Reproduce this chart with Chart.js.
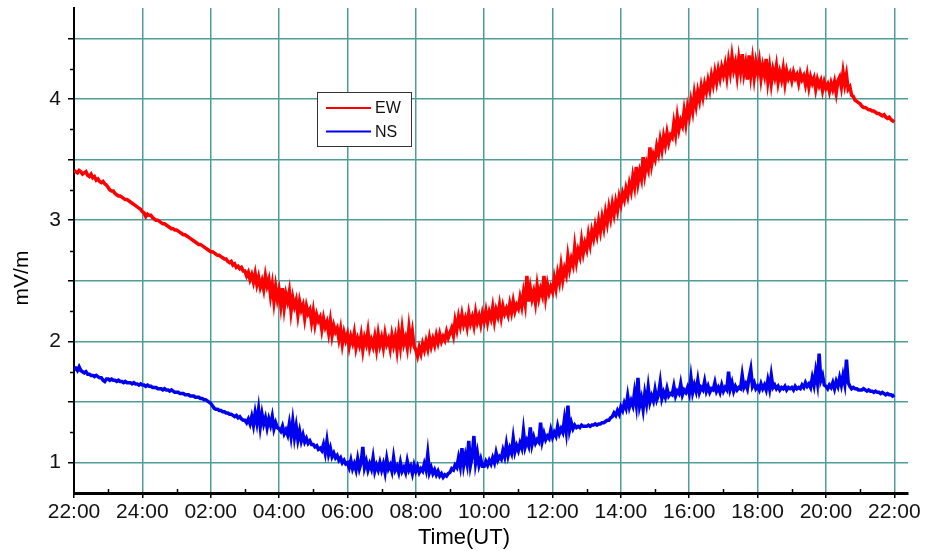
<!DOCTYPE html>
<html>
<head>
<meta charset="utf-8">
<script src="https://cdn.jsdelivr.net/npm/chart.js@4/dist/chart.umd.min.js"></script>
<style>
  html, body { margin: 0; padding: 0; background: #ffffff; }
  #wrap { width: 925px; height: 551px; }
</style>
</head>
<body>
<div id="wrap"><canvas id="chart" width="925" height="551"></canvas></div>
<script>
// Samples every 0.05 h (3 min), starting at 22:00 UT and running for 24 hours.
const sampleStepHours = 0.05;

// Hour-axis labels, one every two hours.
const timeTickLabels = ['22:00', '24:00', '02:00', '04:00', '06:00', '08:00', '10:00',
                        '12:00', '14:00', '16:00', '18:00', '20:00', '22:00'];

const seriesNames = ['EW', 'NS'];
const xAxisTitle = 'Time(UT)';
const yAxisTitle = 'mV/m';

// East-west component, mV/m (one row per hour)
const ewValues = [
  3.41, 3.40, 3.39, 3.41, 3.40, 3.38, 3.39, 3.40, 3.37, 3.36, 3.38, 3.35, 3.36, 3.33, 3.34, 3.32, 3.31, 3.32, 3.30, 3.29,
  3.27, 3.25, 3.24, 3.24, 3.22, 3.21, 3.20, 3.20, 3.19, 3.18, 3.17, 3.17, 3.16, 3.15, 3.14, 3.13, 3.12, 3.11, 3.10, 3.09,
  3.07, 3.06, 3.03, 3.05, 3.04, 3.04, 3.02, 3.01, 3.00, 3.00, 2.99, 2.98, 2.97, 2.97, 2.96, 2.95, 2.94, 2.93, 2.93, 2.92,
  2.92, 2.91, 2.90, 2.89, 2.88, 2.88, 2.87, 2.86, 2.85, 2.84, 2.83, 2.82, 2.81, 2.80, 2.80, 2.79, 2.78, 2.77, 2.76, 2.75,
  2.74, 2.74, 2.73, 2.72, 2.71, 2.71, 2.70, 2.69, 2.68, 2.68, 2.66, 2.65, 2.66, 2.63, 2.64, 2.61, 2.62, 2.60, 2.61, 2.58,
  2.58, 2.54, 2.57, 2.51, 2.55, 2.49, 2.56, 2.47, 2.53, 2.45, 2.50, 2.43, 2.54, 2.46, 2.51, 2.38, 2.47, 2.33, 2.45, 2.35,
  2.42, 2.30, 2.44, 2.28, 2.39, 2.33, 2.41, 2.25, 2.36, 2.29, 2.34, 2.22, 2.33, 2.26, 2.30, 2.19, 2.29, 2.23, 2.26, 2.16,
  2.25, 2.14, 2.22, 2.17, 2.20, 2.10, 2.19, 2.12, 2.16, 2.07, 2.17, 2.05, 2.13, 2.08, 2.11, 2.02, 2.10, 1.98, 2.07, 2.01,
  2.06, 1.96, 2.04, 1.99, 2.07, 1.95, 2.02, 1.97, 2.05, 1.93, 2.03, 1.98, 2.08, 1.95, 2.01, 1.96, 2.04, 1.94, 2.06, 1.97,
  2.03, 1.95, 2.06, 1.98, 2.02, 1.94, 2.05, 1.97, 2.04, 1.93, 2.07, 1.96, 2.10, 1.98, 2.03, 1.95, 2.11, 1.99, 2.08, 1.96,
  1.93, 1.88, 1.95, 1.90, 1.98, 1.93, 2.00, 1.94, 2.03, 1.96, 2.02, 1.97, 2.05, 1.99, 2.06, 2.00, 2.04, 2.01, 2.08, 2.03,
  2.07, 2.11, 2.05, 2.17, 2.10, 2.20, 2.13, 2.22, 2.14, 2.19, 2.12, 2.23, 2.15, 2.20, 2.13, 2.24, 2.16, 2.21, 2.14, 2.23,
  2.17, 2.25, 2.16, 2.24, 2.19, 2.28, 2.17, 2.26, 2.21, 2.30, 2.20, 2.29, 2.23, 2.27, 2.22, 2.31, 2.24, 2.33, 2.25, 2.30,
  2.27, 2.36, 2.29, 2.40, 2.31, 2.54, 2.33, 2.44, 2.35, 2.41, 2.32, 2.46, 2.36, 2.43, 2.38, 2.54, 2.37, 2.47, 2.40, 2.45,
  2.41, 2.52, 2.44, 2.56, 2.49, 2.62, 2.51, 2.60, 2.55, 2.70, 2.60, 2.68, 2.63, 2.78, 2.66, 2.75, 2.70, 2.83, 2.73, 2.81,
  2.76, 2.88, 2.80, 2.91, 2.85, 2.95, 2.88, 2.99, 2.91, 3.02, 2.94, 3.06, 2.98, 3.10, 3.02, 3.13, 3.05, 3.15, 3.08, 3.19,
  3.13, 3.22, 3.17, 3.26, 3.20, 3.30, 3.24, 3.36, 3.28, 3.44, 3.31, 3.40, 3.34, 3.52, 3.38, 3.47, 3.42, 3.60, 3.46, 3.54,
  3.50, 3.61, 3.55, 3.66, 3.58, 3.69, 3.62, 3.72, 3.64, 3.70, 3.68, 3.80, 3.71, 3.85, 3.75, 3.82, 3.78, 3.90, 3.80, 3.93,
  3.86, 3.98, 3.90, 4.04, 3.95, 4.06, 3.99, 4.10, 4.02, 4.12, 4.06, 4.15, 4.08, 4.19, 4.12, 4.22, 4.14, 4.24, 4.17, 4.26,
  4.20, 4.28, 4.18, 4.31, 4.22, 4.35, 4.24, 4.30, 4.19, 4.33, 4.23, 4.37, 4.21, 4.29, 4.16, 4.36, 4.20, 4.32, 4.18, 4.30,
  4.22, 4.31, 4.17, 4.27, 4.20, 4.33, 4.15, 4.26, 4.13, 4.24, 4.18, 4.27, 4.14, 4.22, 4.16, 4.25, 4.13, 4.23, 4.17, 4.21,
  4.15, 4.22, 4.17, 4.20, 4.13, 4.21, 4.16, 4.19, 4.12, 4.20, 4.10, 4.18, 4.13, 4.17, 4.08, 4.16, 4.11, 4.15, 4.07, 4.14,
  4.09, 4.12, 4.06, 4.13, 4.08, 4.14, 4.05, 4.15, 4.18, 4.10, 4.22, 4.12, 4.20, 4.08, 4.10, 4.03, 4.02, 3.99, 3.98, 3.97,
  3.96, 3.94, 3.93, 3.93, 3.92, 3.91, 3.91, 3.90, 3.90, 3.89, 3.88, 3.88, 3.87, 3.86, 3.87, 3.85, 3.84, 3.85, 3.83, 3.82,
  3.81
];

// North-south component, mV/m (one row per hour)
const nsValues = [
  1.77, 1.78, 1.76, 1.79, 1.76, 1.75, 1.74, 1.75, 1.73, 1.73, 1.72, 1.72, 1.71, 1.72, 1.71, 1.70, 1.70, 1.68, 1.67, 1.69,
  1.69, 1.68, 1.69, 1.68, 1.68, 1.67, 1.68, 1.67, 1.67, 1.66, 1.67, 1.66, 1.66, 1.66, 1.65, 1.66, 1.65, 1.65, 1.64, 1.65,
  1.64, 1.64, 1.63, 1.64, 1.63, 1.63, 1.62, 1.62, 1.62, 1.61, 1.61, 1.61, 1.60, 1.61, 1.60, 1.60, 1.59, 1.60, 1.59, 1.58,
  1.58, 1.58, 1.57, 1.57, 1.57, 1.56, 1.56, 1.56, 1.55, 1.55, 1.55, 1.54, 1.54, 1.54, 1.53, 1.53, 1.52, 1.52, 1.51, 1.50,
  1.49, 1.47, 1.45, 1.44, 1.44, 1.43, 1.43, 1.42, 1.42, 1.41, 1.41, 1.40, 1.40, 1.39, 1.38, 1.39, 1.37, 1.38, 1.36, 1.35,
  1.35, 1.33, 1.36, 1.32, 1.38, 1.31, 1.41, 1.33, 1.44, 1.30, 1.40, 1.32, 1.37, 1.29, 1.36, 1.31, 1.38, 1.28, 1.33, 1.29,
  1.28, 1.26, 1.30, 1.24, 1.27, 1.23, 1.32, 1.22, 1.34, 1.21, 1.30, 1.19, 1.26, 1.18, 1.23, 1.17, 1.20, 1.16, 1.18, 1.15,
  1.15, 1.13, 1.14, 1.11, 1.12, 1.10, 1.15, 1.08, 1.18, 1.07, 1.12, 1.05, 1.08, 1.04, 1.06, 1.02, 1.04, 1.00, 1.02, 0.99,
  1.00, 0.96, 1.02, 0.95, 0.99, 0.94, 1.03, 0.95, 1.00, 1.13, 0.96, 1.01, 0.94, 0.99, 0.95, 1.04, 0.93, 0.98, 0.94, 1.00,
  0.94, 0.99, 0.92, 1.03, 0.95, 0.98, 0.93, 1.04, 0.94, 0.97, 0.92, 1.00, 0.93, 0.96, 0.92, 1.01, 0.94, 0.97, 0.91, 0.98,
  0.93, 0.97, 0.92, 0.95, 0.93, 0.99, 0.94, 1.07, 0.92, 0.96, 0.91, 0.94, 0.90, 0.93, 0.89, 0.91, 0.88, 0.90, 0.89, 0.91,
  0.92, 0.95, 0.94, 0.98, 0.96, 1.04, 0.97, 1.12, 0.98, 1.06, 0.99, 1.18, 0.98, 1.05, 1.22, 1.00, 1.08, 0.98, 1.03, 0.97,
  0.97, 1.01, 0.98, 1.02, 0.99, 1.04, 1.00, 1.08, 1.02, 1.05, 1.03, 1.10, 1.05, 1.15, 1.06, 1.12, 1.08, 1.20, 1.09, 1.14,
  1.10, 1.16, 1.12, 1.26, 1.13, 1.18, 1.14, 1.29, 1.15, 1.21, 1.16, 1.19, 1.17, 1.33, 1.18, 1.24, 1.19, 1.22, 1.20, 1.27,
  1.21, 1.25, 1.22, 1.30, 1.24, 1.28, 1.25, 1.36, 1.26, 1.47, 1.27, 1.33, 1.28, 1.31, 1.29, 1.30, 1.29, 1.31, 1.30, 1.30,
  1.30, 1.31, 1.30, 1.31, 1.31, 1.32, 1.31, 1.32, 1.32, 1.33, 1.33, 1.34, 1.35, 1.35, 1.37, 1.38, 1.41, 1.39, 1.43, 1.40,
  1.46, 1.43, 1.49, 1.45, 1.55, 1.46, 1.51, 1.47, 1.58, 1.48, 1.70, 1.47, 1.53, 1.44, 1.57, 1.49, 1.62, 1.50, 1.55, 1.51,
  1.60, 1.52, 1.56, 1.66, 1.53, 1.58, 1.54, 1.61, 1.55, 1.57, 1.56, 1.63, 1.55, 1.59, 1.57, 1.65, 1.56, 1.60, 1.58, 1.62,
  1.57, 1.70, 1.58, 1.64, 1.59, 1.68, 1.58, 1.62, 1.60, 1.67, 1.59, 1.63, 1.58, 1.61, 1.60, 1.66, 1.59, 1.62, 1.58, 1.64,
  1.59, 1.62, 1.60, 1.75, 1.61, 1.66, 1.59, 1.63, 1.60, 1.62, 1.61, 1.72, 1.62, 1.65, 1.61, 1.70, 1.77, 1.63, 1.66, 1.61,
  1.63, 1.60, 1.65, 1.61, 1.64, 1.60, 1.68, 1.61, 1.72, 1.62, 1.64, 1.61, 1.63, 1.60, 1.62, 1.61, 1.63, 1.60, 1.62, 1.61,
  1.62, 1.60, 1.63, 1.61, 1.62, 1.61, 1.64, 1.62, 1.66, 1.63, 1.65, 1.62, 1.70, 1.64, 1.75, 1.66, 1.90, 1.68, 1.72, 1.64,
  1.63, 1.61, 1.64, 1.62, 1.66, 1.61, 1.67, 1.63, 1.70, 1.64, 1.72, 1.65, 1.85, 1.66, 1.63, 1.61, 1.62, 1.61, 1.61, 1.60,
  1.60, 1.60, 1.61, 1.60, 1.59, 1.60, 1.59, 1.59, 1.58, 1.59, 1.58, 1.58, 1.57, 1.58, 1.57, 1.56, 1.57, 1.56, 1.56, 1.55,
  1.56
];

const toPoints = (values) => values.map((v, i) => ({ x: +(i * sampleStepHours).toFixed(2), y: v }));

const FONT = "'Liberation Sans', Arial, sans-serif";
const GRID = '#4f9d99';

// Small unlabeled ticks between the main ones (quarter mV/m and odd hours)
const minorTicks = {
  id: 'minorTicks',
  afterDraw(chart) {
    const { ctx, scales: { x, y } } = chart;
    ctx.save();
    ctx.strokeStyle = '#000';
    ctx.lineWidth = 1.5;
    ctx.beginPath();
    for (let v = 1.25; v < y.max; v += 0.5) {
      const py = Math.round(y.getPixelForValue(v)) + 0.5;
      ctx.moveTo(x.left - 4, py);
      ctx.lineTo(x.left, py);
    }
    for (let h = 1; h < 24; h += 2) {
      const px = Math.round(x.getPixelForValue(h)) + 0.5;
      ctx.moveTo(px, y.bottom);
      ctx.lineTo(px, y.bottom - 4);
    }
    ctx.stroke();
    ctx.restore();
  }
};

// Axis captions placed by hand below / left of the plot
const axisTitles = {
  id: 'axisTitles',
  afterDraw(chart) {
    const { ctx } = chart;
    ctx.save();
    ctx.fillStyle = '#000000';
    ctx.textAlign = 'center';
    ctx.textBaseline = 'middle';
    ctx.font = '22px ' + FONT;
    ctx.fillText(xAxisTitle, 464, 538);
    ctx.translate(22, 278);
    ctx.rotate(-Math.PI / 2);
    ctx.font = '21px ' + FONT;
    ctx.fillText(yAxisTitle, 0, 0);
    ctx.restore();
  }
};

// Boxed legend sitting inside the plot area
const boxedLegend = {
  id: 'boxedLegend',
  afterDraw(chart) {
    const { ctx } = chart;
    const box = { x: 317.5, y: 92.5, w: 94, h: 54 };
    ctx.save();
    ctx.fillStyle = '#ffffff';
    ctx.fillRect(box.x, box.y, box.w, box.h);
    ctx.strokeStyle = '#333333';
    ctx.lineWidth = 1;
    ctx.strokeRect(box.x, box.y, box.w, box.h);
    ctx.font = '16px ' + FONT;
    ctx.textBaseline = 'middle';
    ctx.textAlign = 'left';
    chart.data.datasets.forEach((ds, i) => {
      const cy = 108 + i * 23.5;
      ctx.strokeStyle = ds.borderColor;
      ctx.lineWidth = 2;
      ctx.beginPath();
      ctx.moveTo(326, cy);
      ctx.lineTo(371, cy);
      ctx.stroke();
      ctx.fillStyle = '#111111';
      ctx.fillText(ds.label, 375, cy + 1);
    });
    ctx.restore();
  }
};

new Chart(document.getElementById('chart'), {
  type: 'line',
  data: {
    datasets: [
      {
        label: seriesNames[0],
        data: toPoints(ewValues),
        borderColor: '#ff0000',
        borderWidth: 3.5,
        pointRadius: 0,
        tension: 0,
        fill: false
      },
      {
        label: seriesNames[1],
        data: toPoints(nsValues),
        borderColor: '#0000f0',
        borderWidth: 3.5,
        pointRadius: 0,
        tension: 0,
        fill: false
      }
    ]
  },
  options: {
    responsive: false,
    animation: false,
    devicePixelRatio: 1,
    layout: { padding: { top: 8, right: 17, left: 0, bottom: 0 } },
    plugins: {
      legend: { display: false },
      tooltip: { enabled: false }
    },
    scales: {
      x: {
        type: 'linear',
        min: 0,
        max: 24.4,
        afterBuildTicks: (scale) => {
          scale.ticks = timeTickLabels.map((_, i) => ({ value: i * 2 }));
        },
        afterFit: (scale) => { scale.height = 58; },
        ticks: {
          autoSkip: false,
          maxRotation: 0,
          padding: 2,
          color: '#111111',
          font: { family: FONT, size: 21 },
          callback: (value) => timeTickLabels[Math.round(value / 2)]
        },
        grid: {
          color: GRID,
          lineWidth: 1.5,
          tickLength: 5,
          tickColor: '#000000'
        },
        border: { color: '#000000', width: 3 }
      },
      y: {
        type: 'linear',
        min: 0.75,
        max: 4.75,
        afterBuildTicks: (scale) => {
          const t = [];
          for (let v = 1; v <= 4.5; v += 0.5) t.push({ value: v });
          scale.ticks = t;
        },
        afterFit: (scale) => {
          scale.width = 74;
          scale.paddingTop = 0;
          scale.paddingBottom = 0;
        },
        ticks: {
          autoSkip: false,
          padding: 7,
          color: '#111111',
          font: { family: FONT, size: 21 },
          callback: (value) => (Number.isInteger(value) ? String(value) : '')
        },
        grid: {
          color: GRID,
          lineWidth: 1.5,
          tickLength: 6,
          tickColor: '#000000'
        },
        border: { color: '#000000', width: 2 }
      }
    }
  },
  plugins: [minorTicks, axisTitles, boxedLegend]
});
</script>
</body>
</html>
